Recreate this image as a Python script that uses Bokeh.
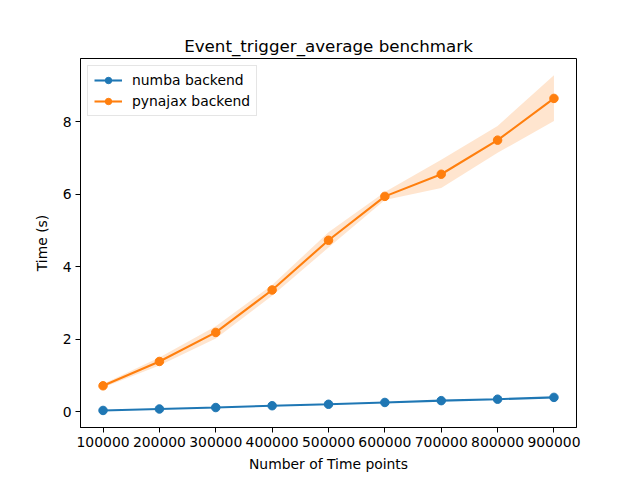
from bokeh.plotting import figure
from bokeh.models import FixedTicker, BasicTickFormatter, Range1d
from bokeh.embed import file_html
from bokeh.resources import INLINE

n_points = [100000, 200000, 300000, 400000, 500000, 600000, 700000, 800000, 900000]
numba_time = [0.04, 0.08, 0.12, 0.17, 0.21, 0.26, 0.31, 0.35, 0.40]
numba_low = [0.03, 0.07, 0.11, 0.16, 0.20, 0.25, 0.30, 0.34, 0.39]
numba_high = [0.05, 0.09, 0.13, 0.18, 0.22, 0.27, 0.32, 0.36, 0.41]
pynajax_time = [0.72, 1.39, 2.19, 3.36, 4.73, 5.94, 6.55, 7.49, 8.64]
pynajax_low = [0.67, 1.28, 2.02, 3.20, 4.53, 5.84, 6.17, 7.14, 8.02]
pynajax_high = [0.77, 1.50, 2.36, 3.50, 4.95, 6.06, 6.95, 7.88, 9.28]
x_ticks = [100000, 200000, 300000, 400000, 500000, 600000, 700000, 800000, 900000]
y_ticks = [0, 2, 4, 6, 8]

blue = "#1f77b4"
orange = "#ff7f0e"
FONT = "DejaVu Sans"

p = figure(width=632, height=472, output_backend="svg", toolbar_location=None,
           title="Event_trigger_average benchmark",
           x_range=Range1d(60000, 940000), y_range=Range1d(-0.43, 9.74),
           min_border_left=80, min_border_right=56, min_border_top=58, min_border_bottom=45)
p.frame_width = 496
p.frame_height = 369

p.title.text_font = FONT
p.title.text_font_size = "16.7px"
p.title.text_font_style = "normal"
p.title.align = "center"
p.title.text_color = "black"
p.title.standoff = 6

p.grid.visible = False
p.outline_line_color = "black"
p.outline_line_width = 1

for ax in (p.xaxis, p.yaxis):
    ax.axis_line_color = "black"
    ax.major_tick_line_color = "black"
    ax.major_tick_out = 5
    ax.major_tick_in = 0
    ax.minor_tick_line_color = None
    ax.major_label_text_font = FONT
    ax.major_label_text_font_size = "13.9px"
    ax.major_label_text_color = "black"
    ax.axis_label_text_font = FONT
    ax.axis_label_text_font_size = "13.9px"
    ax.axis_label_text_font_style = "normal"
    ax.axis_label_text_color = "black"
    ax.major_label_standoff = 4

p.xaxis.ticker = FixedTicker(ticks=x_ticks)
p.xaxis.formatter = BasicTickFormatter(use_scientific=False)
p.yaxis.ticker = FixedTicker(ticks=y_ticks)
p.xaxis.axis_label = "Number of Time points"
p.yaxis.axis_label = "Time (s)"
p.xaxis.axis_label_standoff = 6
p.yaxis.axis_label_standoff = 10

p.varea(x=n_points, y1=numba_low, y2=numba_high, fill_color=blue, fill_alpha=0.2)
p.varea(x=n_points, y1=pynajax_low, y2=pynajax_high, fill_color=orange, fill_alpha=0.2)

p.line(n_points, numba_time, line_color=blue, line_width=2.08, legend_label="numba backend")
p.scatter(n_points, numba_time, size=8.5, fill_color=blue, line_color=blue, legend_label="numba backend")
p.line(n_points, pynajax_time, line_color=orange, line_width=2.08, legend_label="pynajax backend")
p.scatter(n_points, pynajax_time, size=8.5, fill_color=orange, line_color=orange, legend_label="pynajax backend")

lg = p.legend[0]
lg.location = "top_left"
lg.margin = 7
lg.padding = 6
lg.spacing = 5
lg.glyph_width = 28
lg.glyph_height = 16
lg.label_height = 16
lg.label_standoff = 10
lg.label_text_font = FONT
lg.label_text_font_size = "13.9px"
lg.label_text_color = "black"
lg.border_line_color = "#cccccc"
lg.border_line_width = 1
lg.background_fill_alpha = 0.8

open("out.html", "w").write(file_html(p, INLINE))
